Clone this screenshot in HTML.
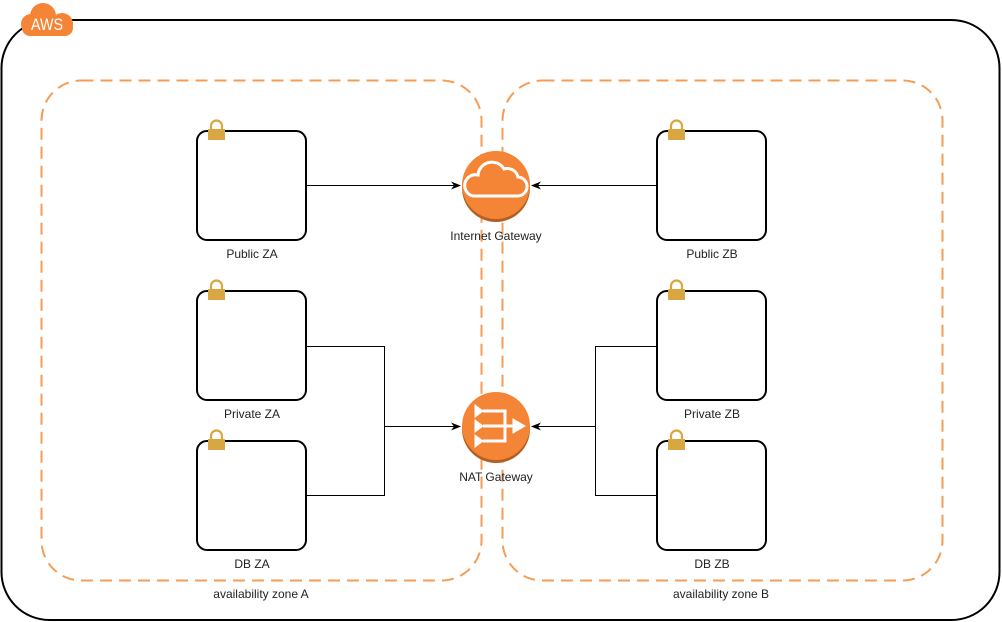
<!DOCTYPE html>
<html><head><meta charset="utf-8"><style>
html,body{margin:0;padding:0;background:#fff;}
svg{display:block;font-family:"Liberation Sans",Arial,sans-serif;}
</style></head><body>
<svg width="1002" height="622" viewBox="0 0 1002 622" xmlns="http://www.w3.org/2000/svg">
<defs>
<marker id="ar" markerWidth="10" markerHeight="10" refX="9" refY="5" orient="auto" markerUnits="userSpaceOnUse">
<path d="M0,1 L10,5 L0,9 L3,5 Z" fill="#000"/>
</marker>
</defs>
<rect x="1.5" y="20" width="998" height="600" rx="48" fill="#fff" stroke="#000" stroke-width="2"/>
<rect x="41.5" y="80.5" width="440" height="500" rx="40" fill="none" stroke="#F59D56" stroke-width="2" stroke-dasharray="12 7"/>
<rect x="502.5" y="80.5" width="440" height="500" rx="40" fill="none" stroke="#F59D56" stroke-width="2" stroke-dasharray="12 7"/>
<g fill="#F58536">
<circle cx="43" cy="16" r="13"/>
<circle cx="31" cy="24" r="10"/>
<circle cx="62" cy="24" r="11"/>
<rect x="22" y="20" width="51" height="16" rx="8"/>
</g>
<text x="47" y="30" font-size="17" fill="#fff" text-anchor="middle" textLength="32" lengthAdjust="spacingAndGlyphs">AWS</text>
<g stroke="#000" stroke-width="1" fill="none">
<line x1="306" y1="185.5" x2="460" y2="185.5" marker-end="url(#ar)"/>
<line x1="657" y1="185.5" x2="532" y2="185.5" marker-end="url(#ar)"/>
<polyline points="306,346.5 384.5,346.5 384.5,495.5 306,495.5"/>
<line x1="384.5" y1="426.5" x2="460" y2="426.5" marker-end="url(#ar)"/>
<polyline points="657,346.5 595.5,346.5 595.5,495.5 657,495.5"/>
<line x1="595.5" y1="426.5" x2="532" y2="426.5" marker-end="url(#ar)"/>
</g>
<g fill="#fff" stroke="#000" stroke-width="2">
<rect x="197" y="131" width="109" height="109" rx="10"/>
<rect x="197" y="291" width="109" height="109" rx="10"/>
<rect x="197" y="441" width="109" height="109" rx="10"/>
<rect x="657" y="131" width="109" height="109" rx="10"/>
<rect x="657" y="291" width="109" height="109" rx="10"/>
<rect x="657" y="441" width="109" height="109" rx="10"/>
</g>
<g id="lk">
<path d="M211,130 v-4 a5.5,5.5 0 0 1 11,0 v4" fill="none" stroke="#D9A741" stroke-width="2.2"/>
<rect x="208" y="129" width="17" height="11" fill="#D9A741"/>
</g>
<use href="#lk" transform="translate(0,160)"/>
<use href="#lk" transform="translate(0,310)"/>
<use href="#lk" transform="translate(460,0)"/>
<use href="#lk" transform="translate(460,160)"/>
<use href="#lk" transform="translate(460,310)"/>
<circle cx="496" cy="188" r="34" fill="#B35E22"/>
<circle cx="496" cy="185" r="34" fill="#F58536"/>
<path d="M473,196 h44 a9,9 0 0 0 1,-19 a11,11 0 0 0 -14,-8 a14,14 0 0 0 -26,6 a10.5,10.5 0 0 0 -5,21 z" fill="none" stroke="#fff" stroke-width="3"/>
<circle cx="496" cy="429" r="34" fill="#B35E22"/>
<circle cx="496" cy="426" r="34" fill="#F58536"/>
<g fill="#fff" stroke="#fff">
<path d="M475,405 l8,6 l-8,6 z M475,420 l8,6 l-8,6 z M475,435 l8,6 l-8,6 z"/>
<path d="M483,411 h22 v30 h-22 M483,426 h32" fill="none" stroke-width="3"/>
<path d="M513,419 l12,7 l-12,7 z"/>
</g>
<g font-size="12" fill="#222" text-anchor="middle">
<text x="252" y="258">Public ZA</text>
<text x="252" y="418">Private ZA</text>
<text x="252" y="568">DB ZA</text>
<text x="712" y="258">Public ZB</text>
<text x="712" y="418">Private ZB</text>
<text x="712" y="568">DB ZB</text>
<text x="496" y="240">Internet Gateway</text>
<text x="496" y="481">NAT Gateway</text>
<text x="261" y="598">availability zone A</text>
<text x="721" y="598">availability zone B</text>
</g>
</svg>
</body></html>
